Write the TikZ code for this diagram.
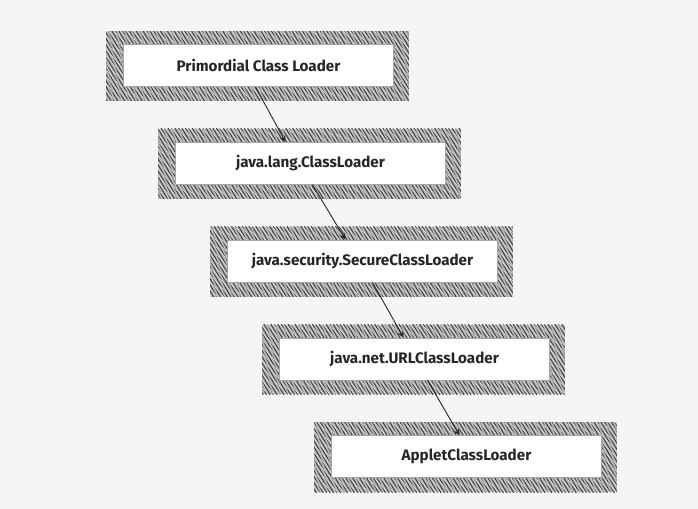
\documentclass[tikz,border=0pt]{standalone}
\usepackage{fontspec}
\setmainfont{Fira Sans}
\usetikzlibrary{positioning,patterns.meta,backgrounds}

\definecolor{paper}{HTML}{F5F5F5}
\tikzstyle{loader} = [rectangle, minimum width=135pt, minimum height=21pt, inner sep=0pt, text centered, draw=gray!70, fill=white, line width=0.4pt, font=\fontsize{7.6}{9}\selectfont\bfseries, text=black!85]
\tikzstyle{hatch} = [fill=gray!55, postaction={pattern={Lines[angle=-60,distance=1.5pt,line width=0.5pt]}, pattern color=black!75}, postaction={pattern={Lines[angle=-48,distance=2.3pt,line width=0.35pt]}, pattern color=gray!25}]
\tikzstyle{arrow} = [->,>=stealth, line width=0.45pt, black!85]

\begin{document}
\begin{tikzpicture}[x=0.5pt, y=-0.5pt, node distance=27.5pt]
		% Nodes
		\node (primordial) [loader] at (258.5,65.5) {Primordial Class Loader};
		\node (langloader) [loader, below=of primordial, xshift=26pt] {java.lang.ClassLoader};
		\node (secureloader) [loader, below=of langloader, xshift=26pt] {java.security.SecureClassLoader};
		\node (urlloader) [loader, below=of secureloader, xshift=26pt] {java.net.URLClassLoader};
		\node (appletloader) [loader, below=of urlloader, xshift=26pt] {AppletClassLoader};
		% Background and hatched frames
		\begin{scope}[on background layer]
			\fill[paper] (0,0) rectangle (698,509);
			\foreach \n in {primordial, langloader, secureloader, urlloader, appletloader}
				\path[hatch] ([shift={(-8.5pt,6.5pt)}]\n.north west) rectangle ([shift={(7.5pt,-7pt)}]\n.south east);
		\end{scope}
		% Arrows
		\draw [arrow] ([xshift=-1.5pt]primordial.south) -- ([xshift=-12.5pt]langloader.north);
		\draw [arrow] ([xshift=1pt]langloader.south) -- ([xshift=-8.5pt]secureloader.north);
		\draw [arrow] ([xshift=5pt]secureloader.south) -- ([xshift=-5.5pt]urlloader.north);
		\draw [arrow] ([xshift=6.5pt]urlloader.south) -- ([xshift=-3.5pt]appletloader.north);
	\end{tikzpicture}
\end{document}
